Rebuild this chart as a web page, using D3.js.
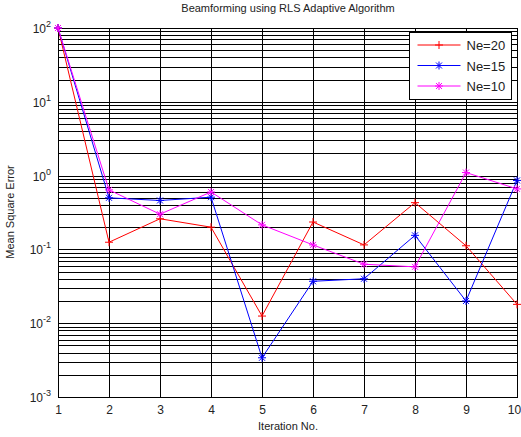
<!DOCTYPE html>
<html>
<head>
<meta charset="utf-8">
<script src="https://cdn.jsdelivr.net/npm/d3@7"></script>
<style>
  body { margin: 0; background: #fff; }
  text { font-family: Arial, "Liberation Sans", sans-serif; fill: #222; }
</style>
</head>
<body>
<div id="chart"></div>
<script>
// data
var iterations = [1, 2, 3, 4, 5, 6, 7, 8, 9, 10]
var ne20 = [100, 0.125, 0.26, 0.2, 0.0125, 0.235, 0.115, 0.43, 0.112, 0.018]
var ne15 = [100, 0.5, 0.46, 0.51, 0.0034, 0.037, 0.04, 0.155, 0.02, 0.86]
var ne10 = [100, 0.64, 0.3, 0.6, 0.215, 0.115, 0.063, 0.058, 1.1, 0.66]
var seriesNames = ["Ne=20", "Ne=15", "Ne=10"]
var seriesColors = ["#ff0000", "#0000ff", "#ff00ff"]
var seriesMarkers = ["plus", "star", "star"]
var yTickExps = [2, 1, 0, -1, -2, -3]

var dims = {
    width: 521,
    height: 437,
    margin: {top: 28, right: 4, bottom: 40, left: 58}
}
var innerW = 517 - dims.margin.left
var innerH = 397 - dims.margin.top

var svg = d3.select("#chart").append("svg")
    .attr("width", dims.width)
    .attr("height", dims.height)

var g = svg.append("g")
    .attr("transform", `translate(${dims.margin.left},${dims.margin.top})`)

var x = d3.scaleLinear().domain([1, 10]).range([0, innerW])
var y = d3.scaleLog().domain([1e-3, 1e2]).range([innerH, 0])

// grid: major + minor lines on log axis
var yGrid = []
for (var e = -3; e < 2; e++) {
    for (var m = 1; m < 10; m++) yGrid.push(m * Math.pow(10, e))
}
yGrid.push(100)

g.append("g").selectAll("line")
    .data(yGrid)
    .enter().append("line")
    .attr("x1", 0).attr("x2", innerW)
    .attr("y1", d => Math.round(y(d)) + 0.5)
    .attr("y2", d => Math.round(y(d)) + 0.5)
    .attr("stroke", "#000")
    .attr("stroke-width", 1)

g.append("g").selectAll("line")
    .data(iterations)
    .enter().append("line")
    .attr("x1", d => Math.round(x(d)) + 0.5)
    .attr("x2", d => Math.round(x(d)) + 0.5)
    .attr("y1", 0).attr("y2", innerH)
    .attr("stroke", "#000")
    .attr("stroke-width", 1)

// axes frame
g.append("rect")
    .attr("x", 0.5).attr("y", 0.5)
    .attr("width", innerW).attr("height", innerH)
    .attr("fill", "none")
    .attr("stroke", "#000")

// x tick labels
var xAxis = d3.axisBottom(x).tickValues(iterations).tickSize(0).tickPadding(8).tickFormat(d3.format("d"))
g.append("g")
    .attr("transform", `translate(0,${innerH})`)
    .call(xAxis)
    .call(a => a.select(".domain").remove())
    .selectAll("text")
    .attr("font-size", "12px")
    .attr("font-family", "Arial, 'Liberation Sans', sans-serif")
    .attr("fill", "#333")
    .attr("dx", d => d == 10 ? -3 : 0)

// y tick labels as 10^n
var yLab = g.append("g").selectAll("text")
    .data(yTickExps)
    .enter().append("text")
    .attr("x", -7)
    .attr("y", d => y(Math.pow(10, d)) + 5)
    .attr("text-anchor", "end")
    .attr("font-size", "12px")
    .attr("fill", "#333")
yLab.append("tspan").text("10")
yLab.append("tspan")
    .attr("dy", -6)
    .attr("font-size", "9px")
    .text(d => d)

// lines
var allSeries = [ne20, ne15, ne10]
var line = d3.line()
    .x((d, i) => x(iterations[i]))
    .y(d => y(d))

function drawMarker(sel, type, color) {
    var s = 4
    sel.append("line").attr("x1", -s).attr("x2", s).attr("y1", 0).attr("y2", 0)
    sel.append("line").attr("x1", 0).attr("x2", 0).attr("y1", -s).attr("y2", s)
    if (type == "star") {
        sel.append("line").attr("x1", -3).attr("x2", 3).attr("y1", -3).attr("y2", 3)
        sel.append("line").attr("x1", -3).attr("x2", 3).attr("y1", 3).attr("y2", -3)
    }
    sel.selectAll("line").attr("stroke", color).attr("stroke-width", 1)
}

allSeries.forEach((vals, k) => {
    g.append("path")
        .datum(vals)
        .attr("d", line)
        .attr("fill", "none")
        .attr("stroke", seriesColors[k])
        .attr("stroke-width", 1)

    g.append("g").selectAll("g")
        .data(vals)
        .enter().append("g")
        .attr("transform", (d, i) => `translate(${x(iterations[i])},${y(d)})`)
        .each(function() { drawMarker(d3.select(this), seriesMarkers[k], seriesColors[k]) })
})

// legend
var leg = svg.append("g").attr("transform", "translate(409.5,32.5)")
leg.append("rect")
    .attr("width", 102).attr("height", 67)
    .attr("fill", "#fff").attr("stroke", "#000")
seriesNames.forEach((name, k) => {
    var ly = 12.5 + k * 20.5
    leg.append("line")
        .attr("x1", 8).attr("x2", 51).attr("y1", ly).attr("y2", ly)
        .attr("stroke", seriesColors[k])
    var mk = leg.append("g").attr("transform", `translate(29.5,${ly})`)
    drawMarker(mk, seriesMarkers[k], seriesColors[k])
    leg.append("text")
        .attr("x", 57).attr("y", ly + 5)
        .attr("font-size", "13px")
        .text(name)
})

// title and labels
svg.append("text")
    .attr("x", 288).attr("y", 12)
    .attr("text-anchor", "middle")
    .attr("font-size", "11px")
    .text("Beamforming using RLS Adaptive Algorithm")

svg.append("text")
    .attr("x", 288).attr("y", 430)
    .attr("text-anchor", "middle")
    .attr("font-size", "11px")
    .text("Iteration No.")

svg.append("text")
    .attr("transform", "translate(14,212) rotate(-90)")
    .attr("text-anchor", "middle")
    .attr("font-size", "11px")
    .text("Mean Square Error")
</script>
</body>
</html>
